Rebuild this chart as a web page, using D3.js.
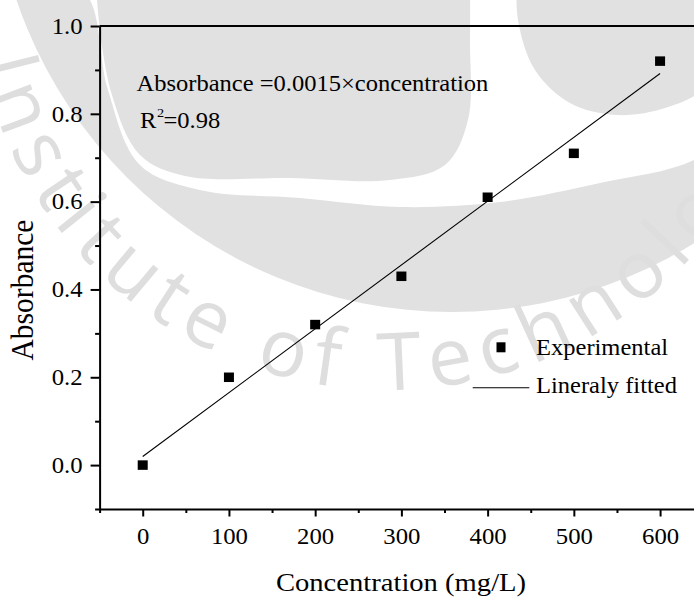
<!DOCTYPE html>
<html>
<head>
<meta charset="utf-8">
<script src="https://cdn.jsdelivr.net/npm/d3@7"></script>
<style>
  body { margin: 0; background: #fff; }
  svg { display: block; }
</style>
</head>
<body>
<svg id="chart" width="694" height="597"></svg>
<script>
// ---- data ----
const concentrations = [0, 100, 200, 300, 400, 500, 600];
const absorbance     = [0.00, 0.20, 0.32, 0.43, 0.61, 0.71, 0.92];

const xMajorTicks = [0, 100, 200, 300, 400, 500, 600];
const xMinorTicks = [-50, 50, 150, 250, 350, 450, 550, 650];
const yMajorTicks = [0.0, 0.2, 0.4, 0.6, 0.8, 1.0];
const yMinorTicks = [-0.1, 0.1, 0.3, 0.5, 0.7, 0.9];
const xDomain = [-50, 700];
const yDomain = [-0.1, 1.0];

const legendLabels  = ["Experimental", "Lineraly fitted"];
const equationLabel = "Absorbance =0.0015\u00D7concentration";
const rSquaredValue = "0.98";
const xTitle = "Concentration (mg/L)";
const yTitle = "Absorbance";
const watermarkText = "Institute of Technology";

// ---- setup ----
const W = 694, H = 597;
const SERIF = '"Liberation Serif", "Times New Roman", Times, serif';
const SX = 1.1;               // horizontal glyph stretch
const WM_GRAY = "#e1e1e1";
const svg = d3.select("#chart");
svg.append("rect").attr("width", W).attr("height", H).attr("fill", "#fff");

// ---- faint emblem behind the plot ----
const wm = svg.append("g");
const smooth = d3.line().curve(d3.curveCatmullRom.alpha(0.5));
// outer disc of the ring
wm.append("circle").attr("cx", 452).attr("cy", -148).attr("r", 460).attr("fill", WM_GRAY);
// hollow inside the ring
wm.append("path").attr("fill", "#fff").attr("d", smooth([
  [60, -30], [90, 0], [108, 90], [140, 165], [200, 190], [300, 198], [400, 207],
  [500, 202], [600, 183], [694, 160], [760, 110], [790, 0], [790, -30]
]) + "Z");
// left lobe
wm.append("path").attr("fill", WM_GRAY).attr("d", smooth([
  [97, -30], [97, 0], [112, 95], [140, 155], [185, 176], [290, 178], [390, 180],
  [445, 165], [468, 120], [470, 40], [470, -30]
]) + "Z");
// right lobe
wm.append("path").attr("fill", WM_GRAY).attr("d", smooth([
  [517, -30], [518, 20], [535, 70], [570, 103], [617, 115], [665, 108], [705, 88],
  [730, 40], [735, -30]
]) + "Z");

// curved lettering under the emblem
const tc = { x: 387, y: -25, r: 415 };
const a0 = 176 * Math.PI / 180, a1 = -10 * Math.PI / 180;
const p0 = [tc.x + tc.r * Math.cos(a0), tc.y + tc.r * Math.sin(a0)];
const p1 = [tc.x + tc.r * Math.cos(a1), tc.y + tc.r * Math.sin(a1)];
svg.append("defs").append("path")
  .attr("id", "emblemArc")
  .attr("d", `M${p0[0]},${p0[1]} A${tc.r},${tc.r} 0 1 0 ${p1[0]},${p1[1]}`);
svg.append("text")
  .attr("font-family", '"Open Sans", "DejaVu Sans", sans-serif')
  .attr("font-size", 80)
  .attr("letter-spacing", 10)
  .attr("fill", "#dedede")
  .append("textPath")
  .attr("href", "#emblemArc")
  .attr("startOffset", 58)
  .text(watermarkText);

// ---- scales ----
const x = d3.scaleLinear().domain(xDomain).range([99.6, 746.3]);
const y = d3.scaleLinear().domain(yDomain).range([509, 26]);

function stretch(sel) {
  sel.each(function () {
    const t = d3.select(this);
    const tx = +t.attr("x") || 0, ty = +t.attr("y") || 0;
    t.attr("x", 0).attr("y", 0).attr("transform", `translate(${tx},${ty}) scale(${SX},1)`);
  });
}

// ---- axes ----
const yAxisG = svg.append("g").attr("transform", `translate(${x(xDomain[0])},0)`)
  .call(d3.axisLeft(y).tickValues(yMajorTicks).tickSize(9).tickSizeOuter(0).tickPadding(8)
        .tickFormat(d3.format(".1f")));
svg.append("g").attr("transform", `translate(${x(xDomain[0])},0)`)
  .call(d3.axisLeft(y).tickValues(yMinorTicks).tickSize(4.5).tickSizeOuter(0).tickFormat(""))
  .select(".domain").remove();

const xAxisG = svg.append("g").attr("transform", `translate(0,${y(yDomain[0])})`)
  .call(d3.axisBottom(x).tickValues(xMajorTicks).tickSize(7.5).tickSizeOuter(0).tickPadding(12));
svg.append("g").attr("transform", `translate(0,${y(yDomain[0])})`)
  .call(d3.axisBottom(x).tickValues(xMinorTicks).tickSize(4).tickSizeOuter(0).tickFormat(""))
  .select(".domain").remove();

// top frame line
svg.append("line")
  .attr("x1", x(xDomain[0])).attr("x2", x(xDomain[1]))
  .attr("y1", y(yDomain[1])).attr("y2", y(yDomain[1]))
  .attr("stroke", "#000").attr("stroke-width", 2);

svg.selectAll(".domain, .tick line").attr("stroke", "#000").attr("stroke-width", 2);
svg.selectAll(".tick text").attr("font-family", SERIF).attr("font-size", 22.5).attr("fill", "#000");
stretch(yAxisG.selectAll(".tick text"));
stretch(xAxisG.selectAll(".tick text"));

// ---- linear least-squares fit ----
const n = concentrations.length;
const mx = d3.mean(concentrations), my = d3.mean(absorbance);
let sxy = 0, sxx = 0;
for (let i = 0; i < n; i++) {
  sxy += (concentrations[i] - mx) * (absorbance[i] - my);
  sxx += (concentrations[i] - mx) ** 2;
}
const slope = sxy / sxx, intercept = my - slope * mx;
const fitX = d3.extent(concentrations);
svg.append("path")
  .datum(fitX.map(c => [c, intercept + slope * c]))
  .attr("fill", "none").attr("stroke", "#000").attr("stroke-width", 1.1)
  .attr("d", d3.line().x(d => x(d[0])).y(d => y(d[1])));

// ---- experimental points ----
const MW = 10, MH = 9.5;
svg.append("g").selectAll("rect")
  .data(concentrations.map((c, i) => [c, absorbance[i]]))
  .join("rect")
  .attr("x", d => x(d[0]) - MW / 2).attr("y", d => y(d[1]) - MH / 2)
  .attr("width", MW).attr("height", MH).attr("fill", "#000");

// ---- equation annotation ----
const eq = svg.append("text").attr("x", 136.5).attr("y", 90.7)
  .attr("font-family", SERIF).attr("font-size", 22.3).attr("fill", "#000")
  .text(equationLabel);
stretch(eq);
const r2 = svg.append("text").attr("x", 140).attr("y", 128)
  .attr("font-family", SERIF).attr("font-size", 22.3).attr("fill", "#000");
r2.append("tspan").text("R");
r2.append("tspan").attr("font-size", 13).attr("dx", 0.5).attr("dy", -11).text("2");
r2.append("tspan").attr("dx", -0.5).attr("dy", 11).text("=" + rSquaredValue);
stretch(r2);

// ---- legend ----
const lg = svg.append("g");
lg.append("rect").attr("x", 501 - 4.5).attr("y", 347.3 - 5).attr("width", 9).attr("height", 10).attr("fill", "#000");
lg.append("line").attr("x1", 472.7).attr("x2", 529.3).attr("y1", 387.7).attr("y2", 387.7)
  .attr("stroke", "#000").attr("stroke-width", 1.1);
lg.selectAll("text").data(legendLabels).join("text")
  .attr("x", 536).attr("y", (d, i) => i === 0 ? 355 : 393.3)
  .attr("font-family", SERIF).attr("font-size", 22.3).attr("fill", "#000")
  .text(d => d)
  .call(stretch);

// ---- axis titles ----
const xt = svg.append("text").attr("x", 401).attr("y", 590.5)
  .attr("text-anchor", "middle").attr("font-family", SERIF).attr("font-size", 26).attr("fill", "#000")
  .text(xTitle);
stretch(xt);
svg.append("text")
  .attr("transform", `translate(33,290) scale(${SX},1) rotate(-90)`)
  .attr("text-anchor", "middle").attr("font-family", SERIF).attr("font-size", 29.5).attr("fill", "#000")
  .text(yTitle);
</script>
</body>
</html>
